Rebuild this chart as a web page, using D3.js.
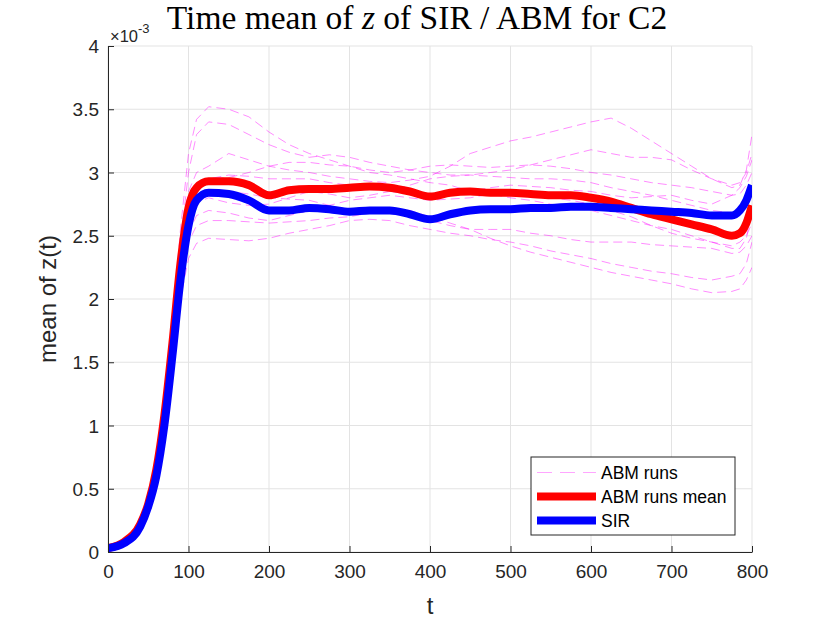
<!DOCTYPE html>
<html>
<head>
<meta charset="utf-8">
<script src="https://cdn.jsdelivr.net/npm/d3@7"></script>
<style>
  body { margin: 0; background: #fff; }
  svg { display: block; }
</style>
</head>
<body>
<svg id="chart"></svg>
<script>
// time samples (shared by every series)
var times = [0, 20, 40, 50, 60, 70, 80, 90, 100, 110, 125, 150, 175, 200, 225, 250, 275, 300, 325, 350,
             375, 400, 425, 450, 475, 500, 525, 550, 575, 600, 625, 650, 675, 700, 725, 750, 775, 785, 793, 800]

// values in units of 1e-3
var sirValues = [0.03, 0.07, 0.20, 0.36, 0.60, 1.00, 1.55, 2.15, 2.58, 2.78, 2.84, 2.83, 2.78, 2.70, 2.70, 2.72, 2.71, 2.69, 2.70, 2.70,
                 2.67, 2.63, 2.67, 2.70, 2.71, 2.71, 2.72, 2.72, 2.73, 2.73, 2.72, 2.71, 2.70, 2.69, 2.68, 2.66, 2.66, 2.70, 2.78, 2.90]

var abmMean = [0.03, 0.08, 0.22, 0.38, 0.65, 1.08, 1.65, 2.28, 2.72, 2.88, 2.93, 2.93, 2.90, 2.82, 2.86, 2.87, 2.87, 2.88, 2.89, 2.88,
               2.85, 2.81, 2.84, 2.85, 2.84, 2.84, 2.83, 2.82, 2.82, 2.80, 2.77, 2.72, 2.67, 2.63, 2.59, 2.55, 2.50, 2.52, 2.60, 2.74]

var run1  = [0.03,0.08,0.23,0.40,0.70,1.15,1.80,2.55,3.15,3.42,3.52,3.50,3.44,3.32,3.22,3.15,3.10,3.05,3.00,2.98,2.95,2.92,2.90,2.85,2.83,2.80,2.78,2.75,2.72,2.70,2.66,2.62,2.58,2.55,2.50,2.45,2.40,2.40,2.48,2.70]
var run2  = [0.03,0.08,0.22,0.39,0.68,1.12,1.75,2.45,3.00,3.30,3.40,3.38,3.30,3.22,3.16,3.12,3.14,3.12,3.08,3.05,3.02,3.00,2.98,2.98,3.00,3.02,3.06,3.10,3.14,3.18,3.15,3.12,3.12,3.10,3.02,2.95,2.90,2.92,3.00,3.15]
var run3  = [0.03,0.08,0.22,0.38,0.66,1.10,1.70,2.35,2.85,3.00,3.05,3.15,3.10,3.05,3.02,3.00,2.97,2.95,2.93,2.92,2.94,2.97,3.05,3.15,3.20,3.25,3.28,3.32,3.36,3.40,3.43,3.35,3.25,3.15,3.05,2.95,2.88,2.90,3.02,3.30]
var run4  = [0.03,0.08,0.22,0.38,0.65,1.08,1.66,2.30,2.75,2.90,2.95,2.96,3.00,3.05,3.08,3.08,3.06,3.05,3.02,3.00,3.02,3.05,3.06,3.05,3.04,3.05,3.06,3.05,3.03,3.00,2.98,2.95,2.92,2.90,2.88,2.85,2.82,2.83,2.90,3.00]
var run5  = [0.03,0.08,0.22,0.38,0.64,1.06,1.62,2.22,2.62,2.76,2.80,2.76,2.74,2.75,2.80,2.85,2.83,2.80,2.82,2.85,2.90,2.95,2.97,2.98,2.97,2.96,2.95,2.95,2.94,2.92,2.88,2.85,2.82,2.78,2.74,2.70,2.68,2.70,2.75,2.85]
var run6  = [0.03,0.08,0.21,0.37,0.63,1.04,1.58,2.15,2.52,2.66,2.70,2.68,2.64,2.62,2.66,2.70,2.74,2.78,2.80,2.82,2.80,2.78,2.79,2.80,2.83,2.85,2.83,2.80,2.78,2.75,2.70,2.65,2.58,2.52,2.48,2.45,2.42,2.45,2.50,2.60]
var run7  = [0.03,0.08,0.21,0.37,0.62,1.02,1.55,2.10,2.45,2.58,2.62,2.62,2.61,2.60,2.61,2.62,2.64,2.65,2.68,2.72,2.70,2.65,2.60,2.55,2.55,2.55,2.52,2.50,2.47,2.45,2.45,2.45,2.43,2.42,2.41,2.40,2.36,2.37,2.42,2.50]
var run8  = [0.03,0.08,0.21,0.36,0.60,0.98,1.48,2.00,2.32,2.44,2.48,2.47,2.46,2.48,2.52,2.55,2.58,2.62,2.63,2.62,2.58,2.55,2.52,2.50,2.47,2.45,2.42,2.38,2.35,2.32,2.28,2.25,2.22,2.20,2.17,2.15,2.18,2.20,2.28,2.45]
var run9  = [0.03,0.08,0.22,0.38,0.65,1.08,1.65,2.25,2.68,2.82,2.85,2.85,2.83,2.80,2.79,2.78,2.74,2.70,2.69,2.68,2.65,2.62,2.58,2.55,2.48,2.42,2.37,2.33,2.29,2.25,2.21,2.18,2.15,2.12,2.08,2.05,2.06,2.08,2.15,2.25]
var run10 = [0.03,0.08,0.22,0.38,0.66,1.10,1.70,2.35,2.82,2.92,2.95,2.98,2.97,2.95,2.95,2.95,2.92,2.90,2.88,2.85,2.83,2.82,2.84,2.85,2.88,2.90,2.89,2.88,2.86,2.85,2.82,2.80,2.81,2.82,2.78,2.75,2.82,2.88,2.97,3.10]
var abmRuns = [run1, run2, run3, run4, run5, run6, run7, run8, run9, run10]

var xTicks = [0, 100, 200, 300, 400, 500, 600, 700, 800]
var yTicks = [0, 0.5, 1, 1.5, 2, 2.5, 3, 3.5, 4]
var legendLabels = ["ABM runs", "ABM runs mean", "SIR"]

drawChart()

function drawChart(){
    var W = 830, H = 623
    var margin = {top: 46, right: 78, bottom: 71, left: 108}
    var svg = d3.select("#chart").attr("width", W).attr("height", H)
    var axisColor = "#262626"
    var sans = "'Liberation Sans', Arial, sans-serif"

    var x = d3.scaleLinear().domain([0, 800]).range([margin.left, W - margin.right])
    var y = d3.scaleLinear().domain([0, 4]).range([H - margin.bottom, margin.top])

    svg.append("rect").attr("width", W).attr("height", H).attr("fill", "#fff")

    // grid
    var grid = svg.append("g")
    grid.selectAll(".gx").data(xTicks).join("line")
        .attr("x1", d => x(d)).attr("x2", d => x(d))
        .attr("y1", y(0)).attr("y2", y(4))
        .attr("stroke", "#e3e3e3").attr("stroke-width", 1)
    grid.selectAll(".gy").data(yTicks).join("line")
        .attr("x1", x(0)).attr("x2", x(800))
        .attr("y1", d => y(d)).attr("y2", d => y(d))
        .attr("stroke", "#e3e3e3").attr("stroke-width", 1)

    svg.append("clipPath").attr("id", "plotclip")
       .append("rect").attr("x", x(0)).attr("y", y(4)).attr("width", x(800) - x(0)).attr("height", y(0) - y(4))

    var line = d3.line().x((d, i) => x(times[i])).y(d => y(d))
    var smooth = d3.line().x((d, i) => x(times[i])).y(d => y(d)).curve(d3.curveMonotoneX)

    var plot = svg.append("g").attr("clip-path", "url(#plotclip)")

    // individual runs
    plot.selectAll(".run").data(abmRuns).join("path")
        .attr("d", d => line(d))
        .attr("fill", "none")
        .attr("stroke", "#ff00ff")
        .attr("stroke-opacity", 0.45)
        .attr("stroke-width", 1)
        .attr("stroke-dasharray", "9,5")

    plot.append("path").attr("d", smooth(abmMean))
        .attr("fill", "none").attr("stroke", "#ff0000").attr("stroke-width", 8)
        .attr("stroke-linejoin", "round")

    plot.append("path").attr("d", smooth(sirValues))
        .attr("fill", "none").attr("stroke", "#0000ff").attr("stroke-width", 8)
        .attr("stroke-linejoin", "round")

    // axes
    var xAxis = svg.append("g").attr("transform", `translate(0,${y(0)})`)
        .call(d3.axisBottom(x).tickValues(xTicks).tickSizeInner(-6).tickSizeOuter(0).tickPadding(13))
    var yAxis = svg.append("g").attr("transform", `translate(${x(0)},0)`)
        .call(d3.axisLeft(y).tickValues(yTicks).tickSizeInner(-6).tickSizeOuter(0).tickPadding(9)
              .tickFormat(d3.format("")))
    ;[xAxis, yAxis].forEach(a => {
        a.select(".domain").attr("stroke", axisColor).attr("stroke-width", 1)
        a.selectAll(".tick line").attr("stroke", axisColor)
        a.selectAll(".tick text").attr("fill", axisColor)
         .style("font-family", sans).style("font-size", "19px")
    })
    yAxis.selectAll(".tick text").attr("dy", "0.35em")

    // exponent
    var expo = svg.append("text").attr("x", 110).attr("y", 41.5)
        .attr("fill", axisColor).style("font-family", sans).style("font-size", "16.5px")
    expo.append("tspan").text("×10")
    expo.append("tspan").attr("dy", -8.5).style("font-size", "13px").text("-3")

    // axis labels
    svg.append("text").attr("x", x(400)).attr("y", 614)
       .attr("text-anchor", "middle").attr("fill", axisColor)
       .style("font-family", sans).style("font-size", "24px").text("t")
    svg.append("text").attr("transform", `translate(56,${y(2)}) rotate(-90)`)
       .attr("text-anchor", "middle").attr("fill", axisColor)
       .style("font-family", sans).style("font-size", "24px").text("mean of z(t)")

    // title
    var title = svg.append("text").attr("x", 417).attr("y", 29)
        .attr("text-anchor", "middle").attr("fill", "#000")
        .style("font-family", "'Liberation Serif', 'Times New Roman', serif").style("font-size", "33.5px")
    title.append("tspan").text("Time mean of ")
    title.append("tspan").style("font-style", "italic").text("z")
    title.append("tspan").text(" of SIR / ABM for C2")

    // legend
    var lg = svg.append("g")
    lg.append("rect").attr("x", 531).attr("y", 457).attr("width", 204).attr("height", 78)
      .attr("fill", "#fff").attr("stroke", axisColor).attr("stroke-width", 1)
    var rows = [
        {stroke: "#ff00ff", op: 0.35, w: 1, dash: "15,8"},
        {stroke: "#ff0000", op: 1, w: 8, dash: null},
        {stroke: "#0000ff", op: 1, w: 8, dash: null}
    ]
    legendLabels.forEach((lab, i) => {
        var cy = 472.5 + i * 24
        lg.append("line").attr("x1", 537).attr("x2", 596).attr("y1", cy).attr("y2", cy)
          .attr("stroke", rows[i].stroke).attr("stroke-opacity", rows[i].op)
          .attr("stroke-width", rows[i].w).attr("stroke-dasharray", rows[i].dash)
        lg.append("text").attr("x", 601).attr("y", cy).attr("dy", "0.36em")
          .attr("fill", "#000").style("font-family", sans).style("font-size", "17.5px").text(lab)
    })
}
</script>
</body>
</html>
